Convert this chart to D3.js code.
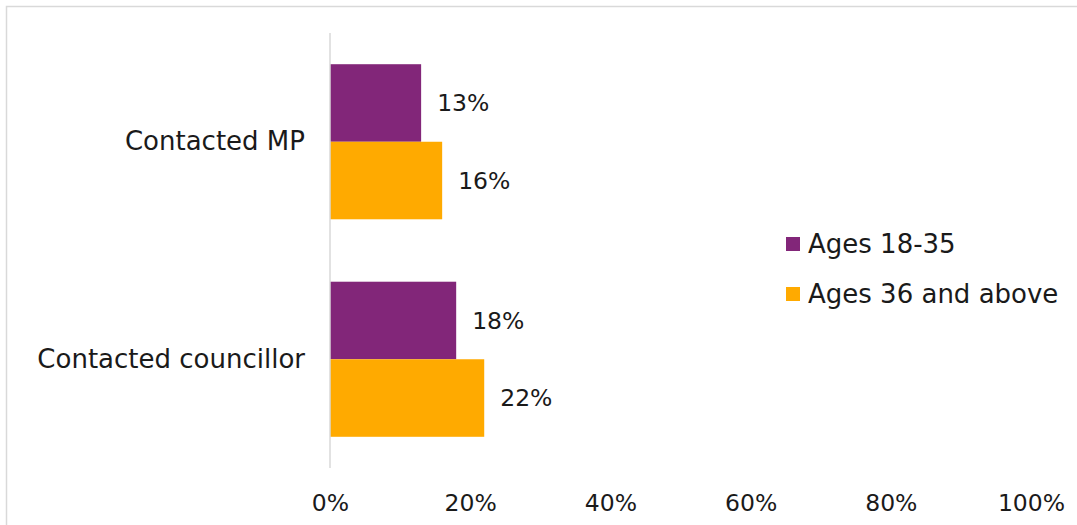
<!DOCTYPE html>
<html><head><meta charset="utf-8">
<script src="https://cdn.jsdelivr.net/npm/d3@7"></script>
<style>html,body{margin:0;padding:0;background:#fff;overflow:hidden}</style>
</head><body>
<svg id="chart" width="1077" height="525"></svg>
<script>
const categories = ["Contacted MP", "Contacted councillor"];
const seriesNames = ["Ages 18-35", "Ages 36 and above"];
const ages18to35 = [0.13, 0.18];
const ages36plus = [0.16, 0.22];
const xTicks = [0, 0.2, 0.4, 0.6, 0.8, 1.0];
const colors = ["#822679", "#FFAA00"];

const seriesValues = [ages18to35, ages36plus];
const font = "DejaVu Sans, sans-serif";
const fsText = 26;
const fsNum = 23.5;
const txtColor = "#1a1a1a";
const svg = d3.select("#chart");

svg.append("rect").attr("x", 6.5).attr("y", 6.5).attr("width", 1100).attr("height", 600)
  .attr("fill", "#fff").attr("stroke", "#d9d9d9").attr("stroke-width", 1.5);

const x = d3.scaleLinear().domain([0, 1]).range([330, 1031]);
const y = d3.scaleBand().domain(categories).range([33, 468]).paddingInner(0.287).paddingOuter(0.1435);
const ySub = d3.scaleBand().domain(seriesNames).range([0, y.bandwidth()]);

// bars
const g = svg.append("g");
categories.forEach((cat, ci) => {
  seriesNames.forEach((s, si) => {
    const v = seriesValues[si][ci];
    g.append("rect")
      .attr("x", x(0)).attr("y", y(cat) + ySub(s))
      .attr("width", x(v) - x(0)).attr("height", ySub.bandwidth())
      .attr("fill", colors[si]);
    g.append("text")
      .attr("x", x(v) + 16).attr("y", y(cat) + ySub(s) + ySub.bandwidth() / 2)
      .attr("dy", "0.35em").attr("font-family", font).attr("font-size", fsNum)
      .attr("fill", txtColor).text(d3.format(".0%")(v));
  });
});

// vertical axis line
svg.append("line").attr("x1", 330).attr("x2", 330).attr("y1", 33).attr("y2", 468)
  .attr("stroke", "#d9d9d9").attr("stroke-width", 1.5);

// category labels
const yAxis = svg.append("g").attr("transform", "translate(330,0)")
  .call(d3.axisLeft(y).tickSize(0).tickPadding(25));
yAxis.select(".domain").remove();
yAxis.selectAll("text").attr("font-family", font).attr("font-size", fsText).attr("fill", txtColor);

// x tick labels
const xAxis = svg.append("g").attr("transform", "translate(0,468)")
  .call(d3.axisBottom(x).tickValues(xTicks).tickFormat(d3.format(".0%")).tickSize(0).tickPadding(26));
xAxis.select(".domain").remove();
xAxis.selectAll("text").attr("font-family", font).attr("font-size", fsNum).attr("fill", txtColor);

// legend
const legend = svg.append("g");
seriesNames.forEach((s, i) => {
  const ly = 244 + i * 50;
  legend.append("rect").attr("x", 786).attr("y", ly - 7).attr("width", 14).attr("height", 14).attr("fill", colors[i]);
  legend.append("text").attr("x", 808).attr("y", ly).attr("dy", "0.35em")
    .attr("font-family", font).attr("font-size", fsText).attr("fill", txtColor).text(s);
});
</script>
</body></html>
